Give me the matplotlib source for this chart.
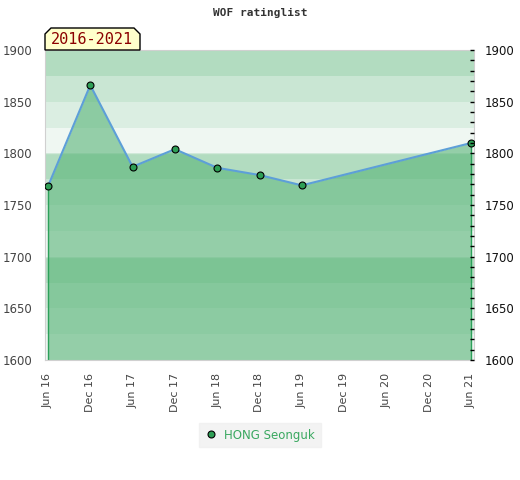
import matplotlib.pyplot as plt
from matplotlib.patches import Polygon
from matplotlib.lines import Line2D

# data
tick_labels = ['Jun 16', 'Dec 16', 'Jun 17', 'Dec 17', 'Jun 18', 'Dec 18',
               'Jun 19', 'Dec 19', 'Jun 20', 'Dec 20', 'Jun 21']
point_pos = [0, 1, 2, 3, 4, 5, 6, 10]
ratings = [1768, 1866, 1787, 1804, 1786, 1779, 1769, 1810]
player = 'HONG Seonguk'
period = '2016-2021'

# background bands (25 points each, repeating every 100)
band_colors = ['#eff7f2', '#dbeee2', '#c9e6d3', '#b2dcc0']

W, H = 520, 480
fig = plt.figure(figsize=(W / 100, H / 100), dpi=100)
ax = fig.add_axes([45 / W, 1 - 360 / H, (474 - 45) / W, (360 - 50) / H])

ymin, ymax = 1600, 1900
for i, lo in enumerate(range(ymin, ymax, 25)):
    ax.axhspan(lo, lo + 25, color=band_colors[i % 4], lw=0, zorder=0)
for y in (1700, 1800):
    ax.axhline(y, color='white', lw=1, alpha=0.4, zorder=0.5)

ax.fill_between(point_pos, ratings, ymin, color=(88 / 255, 180 / 255, 120 / 255),
                alpha=0.6, lw=0, zorder=1)
ax.vlines([point_pos[0], point_pos[-1]], ymin, [ratings[0], ratings[-1]],
          color='#2ca05a', lw=1, zorder=2)
ax.plot(point_pos, ratings, color='#5d9fd8', lw=1.5, zorder=3)
ax.plot(point_pos, ratings, 'o', ms=5, mfc='#2e9e55', mec='black', mew=0.8, zorder=4)

ax.set_xlim(-0.07, 10.07)
ax.set_ylim(ymin, ymax)
ax.set_xticks(range(len(tick_labels)))
ax.set_xticklabels(tick_labels, rotation=90, fontsize=8, color='#444444')
ax.tick_params(axis='x', length=0, pad=9)
ax.set_yticks(range(1600, 1901, 50))
ax.tick_params(axis='y', length=0, labelsize=8.5, labelcolor='#444444', pad=9)

for s in ax.spines.values():
    s.set_color('#d0d0d0')

ax2 = ax.twinx()
ax2.set_ylim(ymin, ymax)
ax2.set_yticks(range(1600, 1901, 50))
ax2.set_yticks(range(1600, 1901, 10), minor=True)
ax2.tick_params(axis='y', which='both', direction='in', length=3, width=1,
                color='black', labelsize=8.5, labelcolor='#111111', pad=8)
for s in ax2.spines.values():
    s.set_visible(False)

fig.text(260 / W, 1 - 13 / H, 'WOF ratinglist', ha='center', va='center',
         family='DejaVu Sans Mono', fontweight='bold', fontsize=8, color='#333333')

# period label box with cut top corners
px = [45, 45, 51, 134, 140, 140]
py = [50, 34, 28, 28, 34, 50]
box = Polygon([(x / W, 1 - y / H) for x, y in zip(px, py)], closed=True,
              transform=fig.transFigure, facecolor='#ffffcc', edgecolor='black', lw=1)
fig.add_artist(box)
fig.text(92 / W, 1 - 40 / H, period, ha='center', va='center',
         family='DejaVu Sans Mono', fontsize=11, color='#8b0000')

handle = Line2D([], [], ls='none', marker='o', ms=5, mfc='#2e9e55', mec='black', mew=0.8)
leg = fig.legend([handle], [player], loc='center', bbox_to_anchor=(260 / W, 1 - 435 / H),
                 fontsize=8.5, frameon=True, fancybox=False, handlelength=1,
                 handletextpad=0.6, borderpad=0.5)
leg.get_frame().set_facecolor('#f0f0f0')
leg.get_frame().set_edgecolor('#f0f0f0')
for t in leg.get_texts():
    t.set_color('#3aa860')

fig.savefig('out.png', dpi=100)
